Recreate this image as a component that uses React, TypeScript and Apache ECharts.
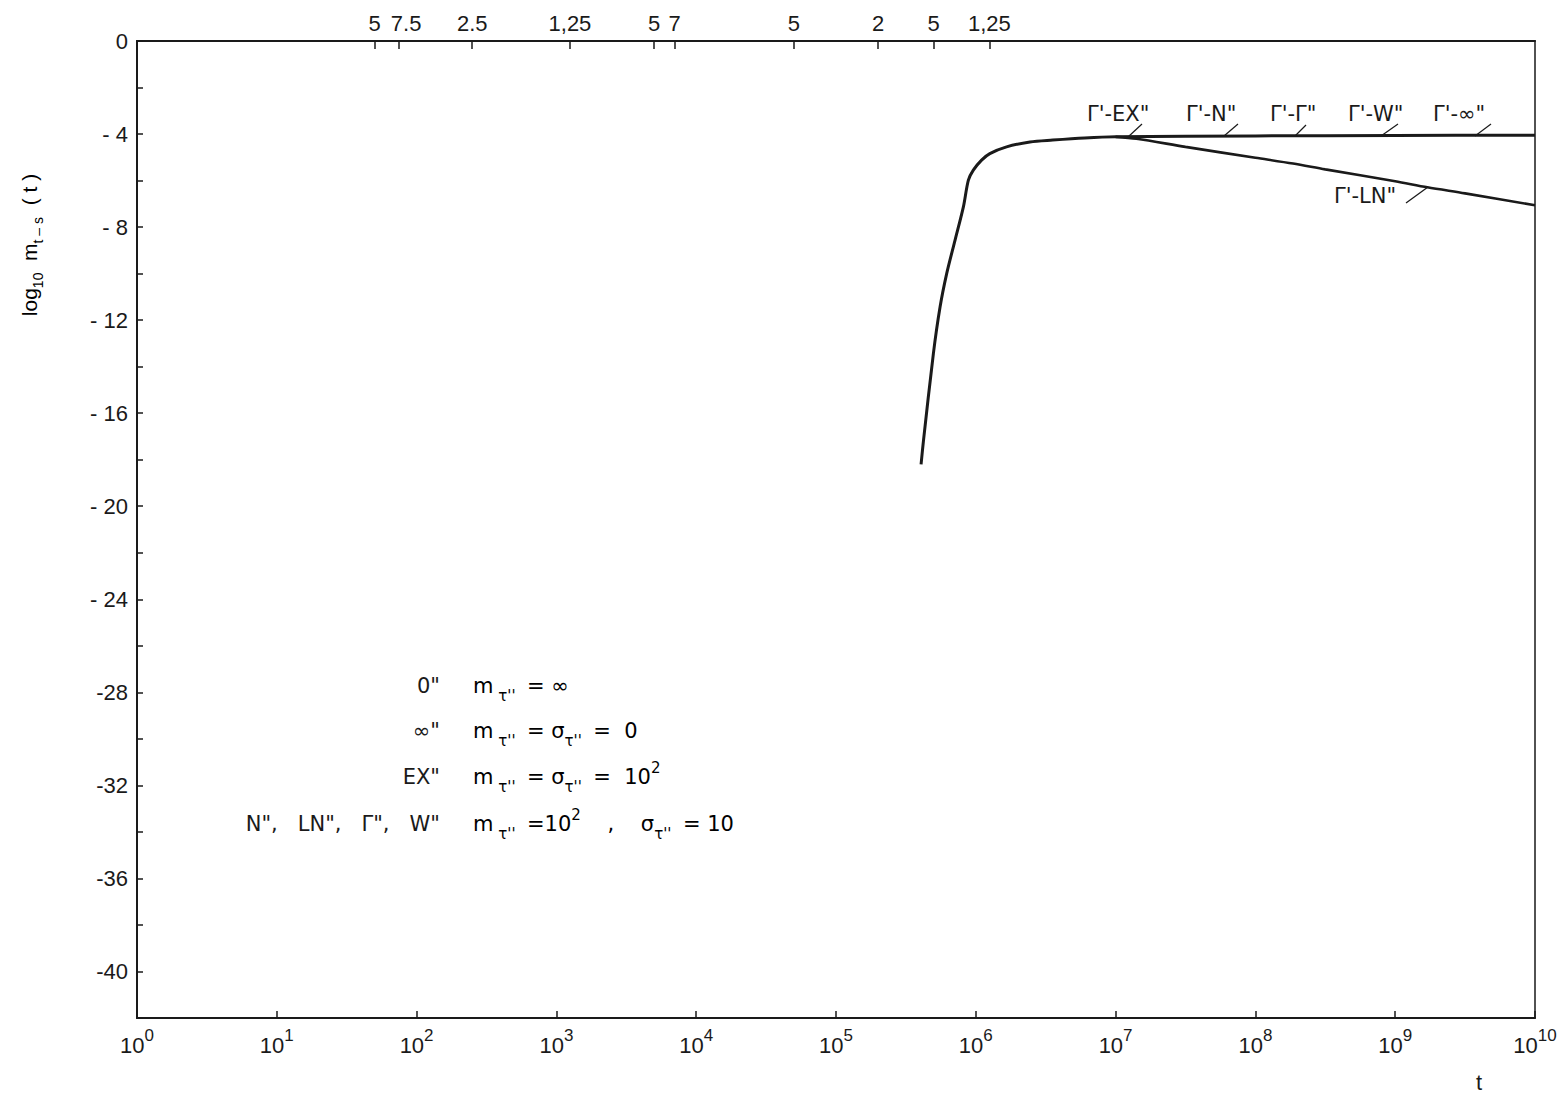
import React, { useEffect, useRef } from "react";
import * as echarts from "echarts";

// ---- data ----
const decadeTicks = [1, 1e1, 1e2, 1e3, 1e4, 1e5, 1e6, 1e7, 1e8, 1e9, 1e10];
const topTickValues = [50, 75, 250, 1250, 5000, 7000, 5e4, 2e5, 5e5, 1.25e6];
const topTickLabels = ["5", "7.5", "2.5", "1,25", "5", "7", "5", "2", "5", "1,25"];

// common curve (Γ'-EX", Γ'-N", Γ'-Γ", Γ'-W", Γ'-∞")
const commonT = [4.06e5, 4.22e5, 4.97e5, 5.55e5, 6.19e5, 7.1e5, 8.15e5, 8.85e5, 9.6e5, 1.1e6, 1.26e6, 1.66e6, 2.44e6, 3.55e6, 6e6, 1e7, 1e8, 1e9, 1e10];
const commonLogM = [-18.2, -17.2, -13.45, -11.44, -10.0, -8.57, -7.13, -5.98, -5.55, -5.12, -4.84, -4.55, -4.34, -4.26, -4.17, -4.12, -4.08, -4.06, -4.05];

// Γ'-LN" branch
const lnT = [1e7, 1.41e7, 3.16e7, 1e8, 1.86e8, 3.16e8, 1e9, 1.7e9, 3.16e9, 1e10];
const lnLogM = [-4.12, -4.2, -4.55, -5.02, -5.27, -5.52, -6.03, -6.29, -6.55, -7.06];

const curveLabels = ['Γ\'-EX"', 'Γ\'-N"', 'Γ\'-Γ"', 'Γ\'-W"', 'Γ\'-∞"'];
const lnLabel = 'Γ\'-LN"';
const legendSymbols = ['0"', '∞"', 'EX"', 'N",   LN",   Γ",   W"'];

const FONT = "'Liberation Sans', Arial, sans-serif";
const DEJAVU = "'DejaVu Sans', sans-serif";
const INK = "#1a1a1a";

export default function App() {
  const ref = useRef<HTMLDivElement>(null);

  useEffect(() => {
    document.body.style.margin = "0";
    if (!ref.current) return;
    const chart = echarts.init(ref.current, undefined, { renderer: "svg" });

    const supRich = {
      b: { fontSize: 22, lineHeight: 36, color: INK, fontFamily: FONT },
      p: { fontSize: 17, lineHeight: 17, verticalAlign: "top", color: INK, fontFamily: FONT },
    };
    const topRich = {
      n: { fontSize: 22, color: INK, fontFamily: FONT },
      r: { fontSize: 22, color: INK, fontFamily: FONT, padding: [0, 0, 0, 14] },
    };
    const mathRich = {
      m: { fontSize: 21, lineHeight: 34, color: INK, fontFamily: DEJAVU },
      s: { fontSize: 15, lineHeight: 15, verticalAlign: "bottom", color: INK, fontFamily: DEJAVU },
      p: { fontSize: 15, lineHeight: 15, verticalAlign: "top", color: INK, fontFamily: DEJAVU },
    };
    const titleRich = {
      m: { fontSize: 21, lineHeight: 32, color: INK, fontFamily: FONT },
      s: { fontSize: 14, lineHeight: 14, verticalAlign: "bottom", color: INK, fontFamily: FONT },
    };

    const rowsY = [686, 731, 777, 824];
    const rightTexts = [
      "{m|m}{s| τ'' }{m| = ∞}",
      "{m|m}{s| τ'' }{m| = σ}{s|τ'' }{m| =  0}",
      "{m|m}{s| τ'' }{m| = σ}{s|τ'' }{m| =  10}{p|2}",
      "{m|m}{s| τ'' }{m| =10}{p|2}{m|    ,    σ}{s|τ'' }{m| = 10}",
    ];

    const labelX = [1087, 1186, 1270, 1348, 1433];
    const leaders = [
      [1142, 124, 1128, 137],
      [1238, 124, 1224, 136],
      [1306, 125, 1295, 136],
      [1398, 124, 1381, 136],
      [1491, 124, 1475, 136],
    ];

    const graphicEls: any[] = [];
    curveLabels.forEach((t, i) => {
      graphicEls.push({
        type: "text",
        x: labelX[i],
        y: 114,
        style: { text: t, fontSize: 21, fontFamily: DEJAVU, fill: INK, align: "left", verticalAlign: "middle" },
      });
      const l = leaders[i];
      graphicEls.push({
        type: "line",
        shape: { x1: l[0], y1: l[1], x2: l[2], y2: l[3] },
        style: { stroke: INK, lineWidth: 1.2 },
      });
    });
    graphicEls.push({
      type: "text",
      x: 1334,
      y: 196,
      style: { text: lnLabel, fontSize: 21, fontFamily: DEJAVU, fill: INK, align: "left", verticalAlign: "middle" },
    });
    graphicEls.push({
      type: "line",
      shape: { x1: 1406, y1: 203, x2: 1428, y2: 187 },
      style: { stroke: INK, lineWidth: 1.2 },
    });
    legendSymbols.forEach((t, i) => {
      graphicEls.push({
        type: "text",
        x: 440,
        y: rowsY[i],
        style: { text: t, fontSize: 21, fontFamily: DEJAVU, fill: INK, align: "right", verticalAlign: "middle" },
      });
      graphicEls.push({
        type: "text",
        x: 473,
        y: rowsY[i],
        style: { text: rightTexts[i], rich: mathRich, align: "left", verticalAlign: "middle" },
      });
    });
    // y axis title (rotated)
    graphicEls.push({
      type: "text",
      x: 29,
      y: 245,
      rotation: Math.PI / 2,
      style: {
        text: "{m|log}{s|10}{m|  m}{s|t – s}{m|  ( t )}",
        rich: titleRich,
        align: "center",
        verticalAlign: "middle",
      },
    });
    // x axis name
    graphicEls.push({
      type: "text",
      x: 1479,
      y: 1082,
      style: { text: "t", fontSize: 22, fontFamily: FONT, fill: INK, align: "center", verticalAlign: "middle" },
    });

    const option: any = {
      animation: false,
      backgroundColor: "#ffffff",
      grid: {
        left: 137,
        right: 33,
        top: 41,
        bottom: 76,
        show: true,
        borderColor: INK,
        borderWidth: 1.5,
        backgroundColor: "transparent",
      },
      xAxis: [
        {
          type: "log",
          logBase: 10,
          min: 1,
          max: 1e10,
          position: "bottom",
          axisLine: { show: true, onZero: false, lineStyle: { color: INK, width: 2 } },
          axisTick: { show: true, inside: true, length: 7, customValues: decadeTicks, lineStyle: { color: INK, width: 1.5 } },
          minorTick: { show: false },
          splitLine: { show: false },
          axisLabel: {
            customValues: decadeTicks,
            margin: 9,
            formatter: (v: number) => `{b|10}{p|${Math.round(Math.log10(v))}}`,
            rich: supRich,
          },
        },
        {
          type: "log",
          logBase: 10,
          min: 1,
          max: 1e10,
          position: "top",
          axisLine: { show: true, onZero: false, lineStyle: { color: INK, width: 2 } },
          axisTick: { show: true, inside: true, length: 8, customValues: topTickValues, lineStyle: { color: INK, width: 1.5 } },
          minorTick: { show: false },
          splitLine: { show: false },
          axisLabel: {
            customValues: topTickValues,
            margin: 7,
            formatter: (v: number) => {
              let best = 0;
              let bd = Infinity;
              topTickValues.forEach((tv, i) => {
                const d = Math.abs(Math.log10(tv) - Math.log10(v));
                if (d < bd) {
                  bd = d;
                  best = i;
                }
              });
              const style = topTickLabels[best] === "7.5" ? "r" : "n";
              return `{${style}|${topTickLabels[best]}}`;
            },
            rich: topRich,
          },
        },
      ],
      yAxis: {
        type: "value",
        min: -42,
        max: 0,
        interval: 2,
        axisLine: { show: true, onZero: false, lineStyle: { color: INK, width: 2 } },
        axisTick: { show: true, inside: true, length: 6, lineStyle: { color: INK, width: 1.5 } },
        splitLine: { show: false },
        axisLabel: {
          margin: 9,
          fontSize: 22,
          fontFamily: FONT,
          color: INK,
          formatter: (v: number) => {
            if (Math.round(v) % 4 !== 0) return "";
            if (v === 0) return "0";
            return v >= -24 ? `- ${-v}` : `-${-v}`;
          },
        },
      },
      series: [
        {
          type: "line",
          name: "common",
          xAxisIndex: 0,
          data: commonT.map((t, i) => [t, commonLogM[i]]),
          showSymbol: false,
          smooth: 0.3,
          lineStyle: { color: INK, width: 3 },
          z: 3,
        },
        {
          type: "line",
          name: "LN",
          xAxisIndex: 0,
          data: lnT.map((t, i) => [t, lnLogM[i]]),
          showSymbol: false,
          smooth: 0.3,
          lineStyle: { color: INK, width: 2.6 },
          z: 3,
        },
      ],
      graphic: { elements: graphicEls },
    };

    chart.setOption(option);
    return () => chart.dispose();
  }, []);

  return <div ref={ref} style={{ width: 1568, height: 1094 }} />;
}
